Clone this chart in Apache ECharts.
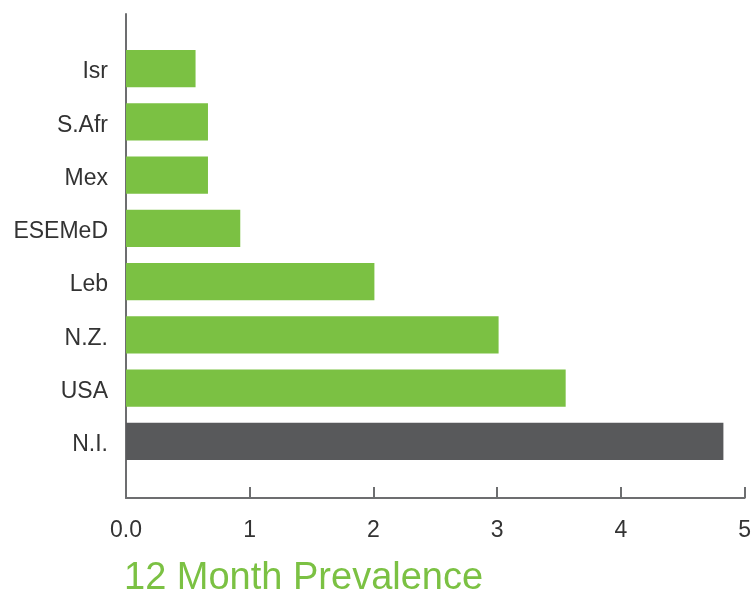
<!DOCTYPE html>
<html>
<head>
<meta charset="utf-8">
<script src="https://cdn.jsdelivr.net/npm/echarts@6/dist/echarts.min.js"></script>
<style>html,body{margin:0;padding:0;background:#fff}#c{width:754px;height:593px}</style>
</head>
<body>
<div id="c"></div>
<script>
var categories = ['Isr', 'S.Afr', 'Mex', 'ESEMeD', 'Leb', 'N.Z.', 'USA', 'N.I.'];
var values = [0.56, 0.66, 0.66, 0.92, 2.0, 3.0, 3.54, 4.81];
var highlighted = ['N.I.'];
var xTicks = [0, 1, 2, 3, 4, 5];
var titleText = '12 Month Prevalence';

var GREEN = '#7bc143', DARK = '#58595b', AXIS = '#6d6e70', TXT = '#333333';
var font = '"Liberation Sans", Arial, Helvetica, sans-serif';

var chart = echarts.init(document.getElementById('c'), null, {renderer: 'canvas'});
chart.setOption({
  animation: false,
  title: {
    text: titleText, left: 119, top: 555,
    textStyle: {color: GREEN, fontSize: 38, fontWeight: 'normal', fontFamily: font}
  },
  grid: [
    {left: 126, right: 7, top: 14, bottom: 95, containLabel: false},
    {left: 126, right: 7, top: 42, height: 426, containLabel: false}
  ],
  xAxis: [
    {
      gridIndex: 0, type: 'value', min: xTicks[0], max: xTicks[xTicks.length - 1], interval: 1,
      axisLine: {show: true, lineStyle: {color: AXIS, width: 2}},
      axisTick: {show: true, inside: true, length: 11, lineStyle: {color: AXIS, width: 2}},
      splitLine: {show: false},
      axisLabel: {
        margin: 21, color: TXT, fontSize: 23, fontFamily: font,
        formatter: function (v) { return v === 0 ? '0.0' : String(v); }
      }
    },
    {
      gridIndex: 1, type: 'value', min: xTicks[0], max: xTicks[xTicks.length - 1],
      show: false
    }
  ],
  yAxis: [
    {
      gridIndex: 0, type: 'value', min: 0, max: 1,
      axisLine: {show: true, lineStyle: {color: AXIS, width: 2}},
      axisTick: {show: false}, axisLabel: {show: false}, splitLine: {show: false}
    },
    {
      gridIndex: 1, type: 'category', data: categories, inverse: true,
      axisLine: {show: false}, axisTick: {show: false}, splitLine: {show: false},
      axisLabel: {
        margin: 18, color: TXT, fontFamily: font,
        formatter: function (v) { return '{t|' + v + '}'; },
        rich: {t: {fontSize: 23, fontFamily: font, color: TXT, padding: [7, 0, 0, 0]}}
      }
    }
  ],
  series: [{
    type: 'bar', xAxisIndex: 1, yAxisIndex: 1,
    barCategoryGap: '30%',
    data: values.map(function (v, i) {
      return {value: v, itemStyle: {color: highlighted.indexOf(categories[i]) >= 0 ? DARK : GREEN}};
    })
  }]
});
</script>
</body>
</html>
